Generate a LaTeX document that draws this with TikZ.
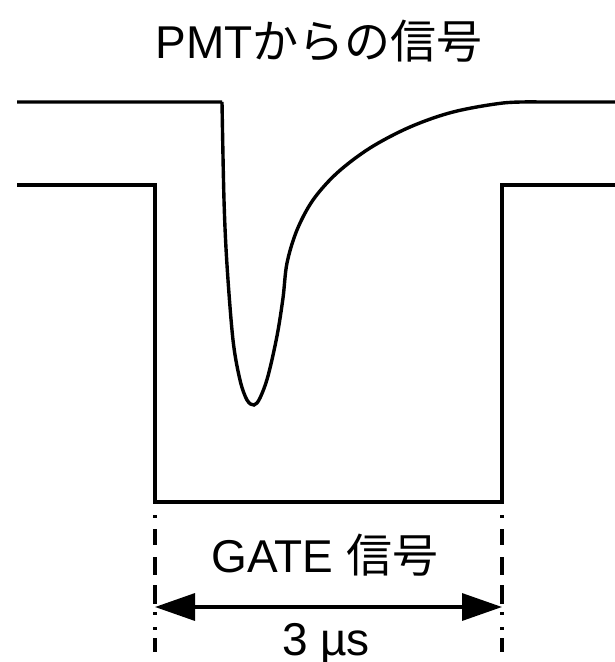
\documentclass[tikz,border=0pt]{standalone}
\usepackage{fontspec}
\setmainfont{Liberation Sans}
\newfontfamily\cjk{Noto Sans CJK JP}
\usetikzlibrary{arrows.meta}
\tikzset{
  sig/.style={line width=3.4pt, line join=miter},
  guide/.style={line width=3.4pt, dash pattern=on 3pt off 11pt on 16pt off 12pt on 18pt off 10pt on 19pt off 8pt on 3pt off 12pt on 3pt off 8pt on 14pt off 10pt},
  dim/.style={line width=3.4pt, {Triangle[length=40pt,width=27pt]}-{Triangle[length=40pt,width=27pt]}},
  lbl/.style={anchor=base, inner sep=0pt, font=\fontsize{46}{52}\selectfont}
}
\begin{document}
\begin{tikzpicture}[x=1pt,y=-1pt]
\useasboundingbox (0,0) rectangle (615,662);
% title
\node[lbl] (title) at (319,58) {PMT{\cjk からの信号}};
% PMT pulse
\draw[sig] (17,102) -- (222,102)
  plot[smooth, tension=0.55] coordinates {(222,102) (224,200) (227,265) (233,340) (240,380) (247,400) (254,405) (260,398) (268,376) (277,336) (283,298) (287,263) (297,230) (313,200) (337,173) (370,148) (410,127) (453,112) (503,103) (540,102)}
  -- (615,102);
% gate
\coordinate (gl) at (155,502);
\coordinate (gr) at (502,502);
\draw[sig] (17,185) -- (155,185) -- (gl) -- (gr) -- (502,185) -- (615,185);
% guides
\coordinate (gl2) at (155,515);
\coordinate (gr2) at (502,515);
\coordinate (glb) at (155,662);
\coordinate (grb) at (502,662);
\draw[guide] (gl2) -- (glb);
\draw[guide] (gr2) -- (grb);
% dimension arrow
\coordinate (al) at (155,607);
\coordinate (ar) at (502,607);
\draw[dim] (al) -- (ar);
\node[lbl] (gate) at (325,572) {GATE {\cjk 信号}};
\node[lbl] (dur) at (326,655) {3 µs};
\end{tikzpicture}
\end{document}
